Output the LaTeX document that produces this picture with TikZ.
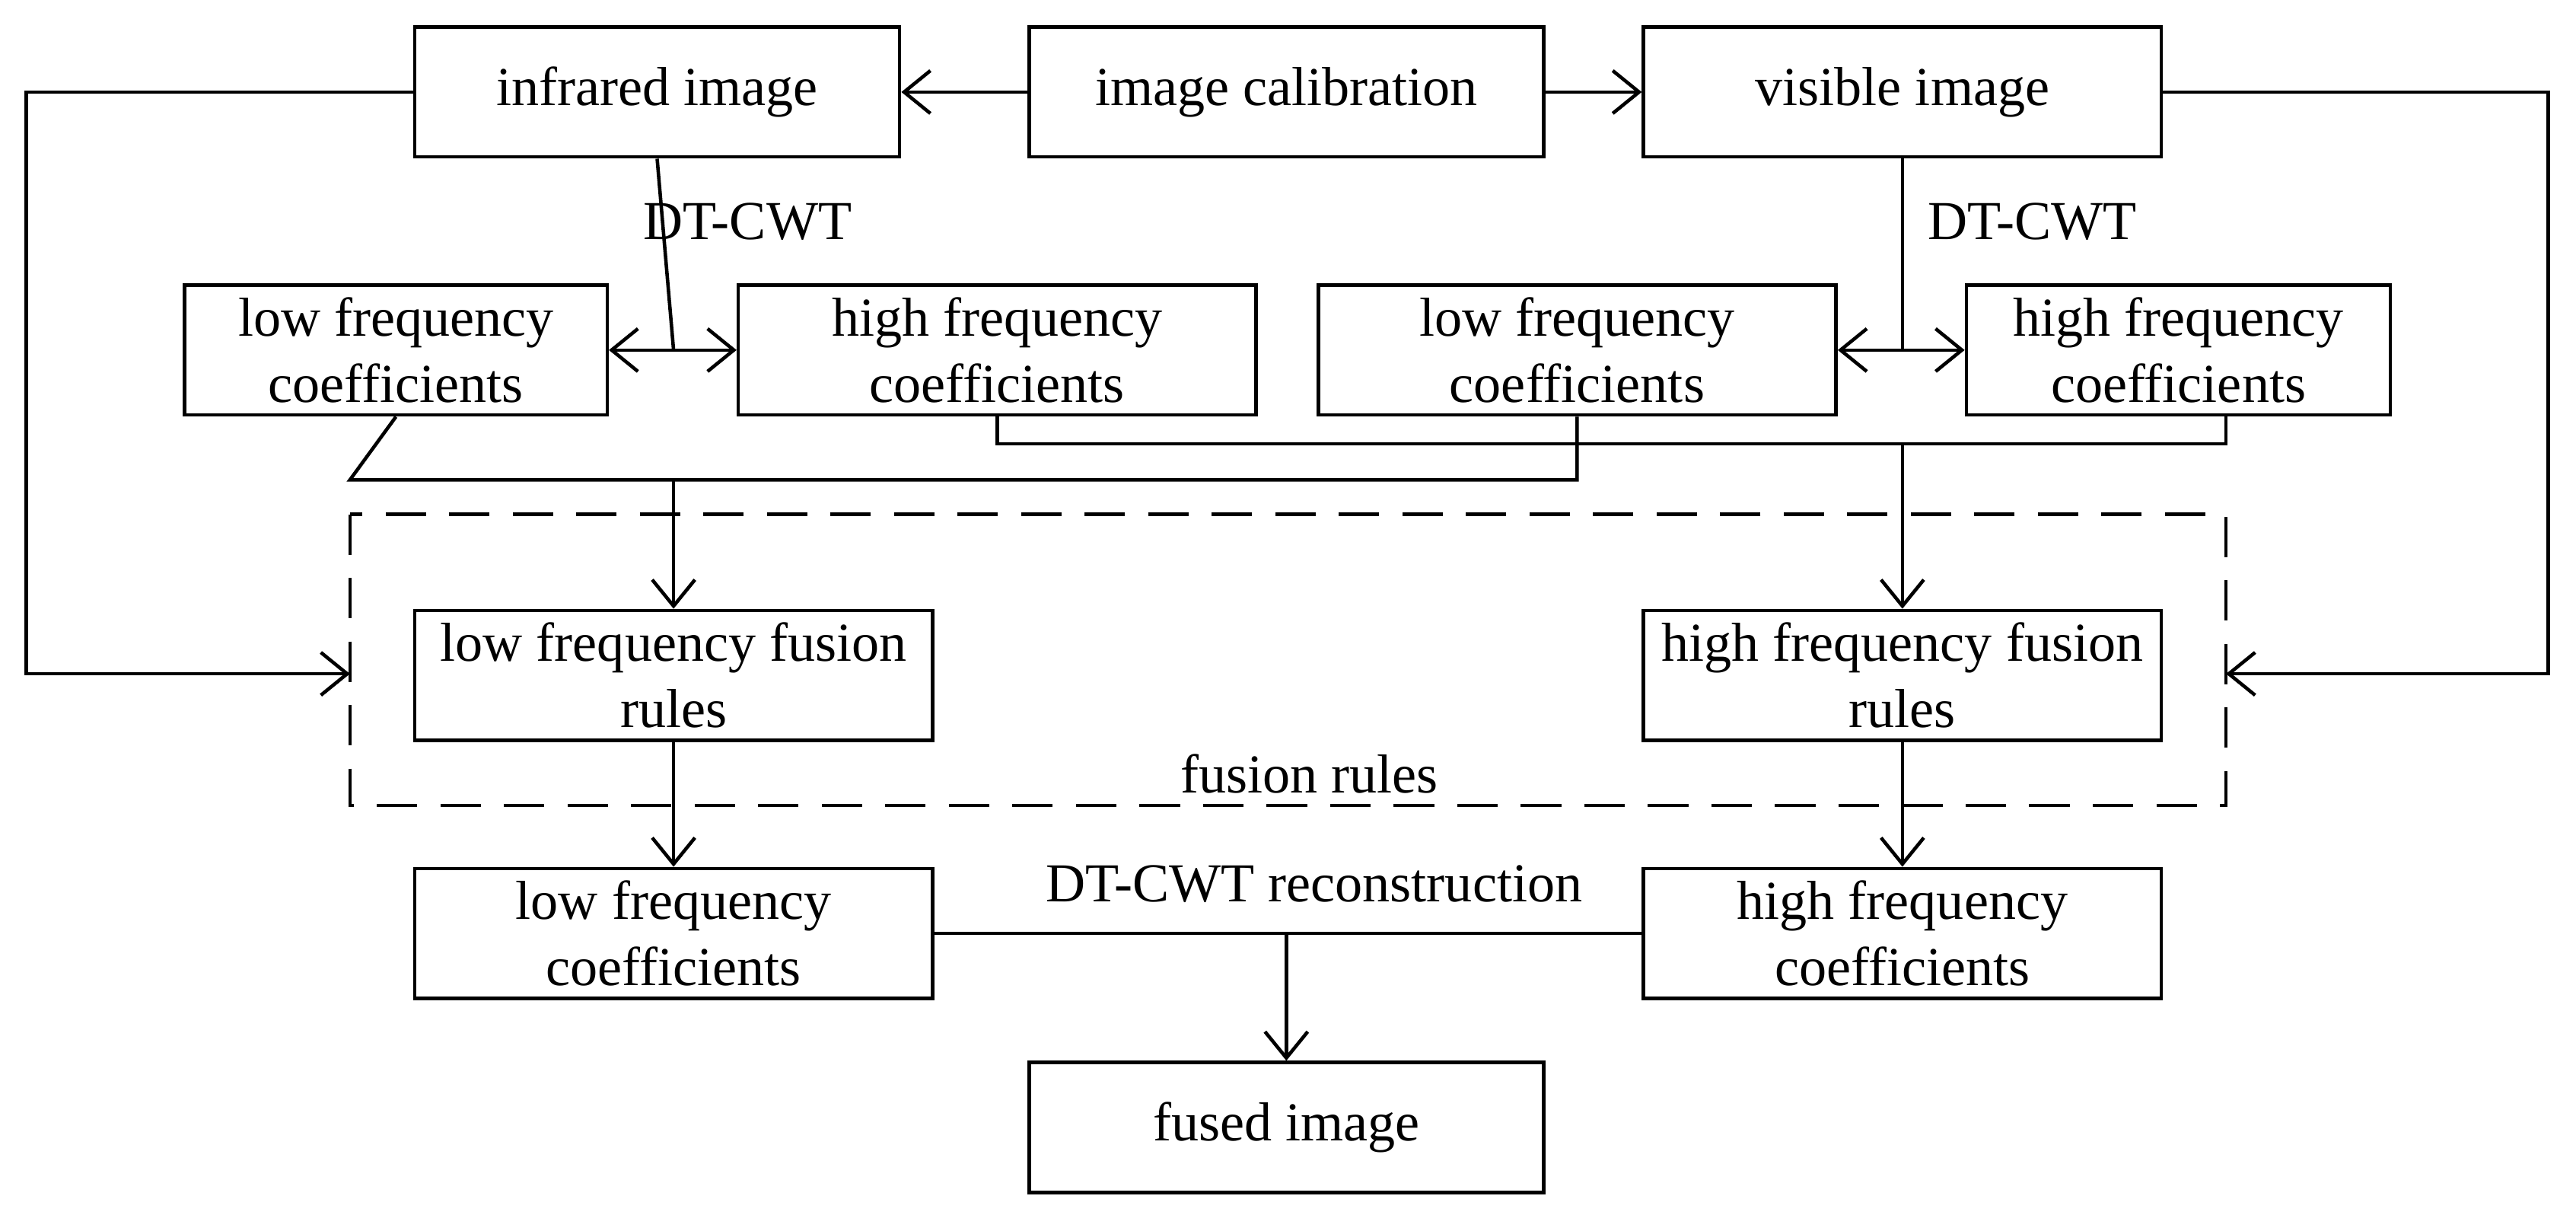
\documentclass[tikz,border=0pt]{standalone}
\usepackage{fontspec}
\setmainfont{Liberation Serif}
\usetikzlibrary{arrows.meta}
\begin{document}
\begin{tikzpicture}[x=0.01cm,y=-0.01cm,
  box/.style={draw,line width=0.6pt,minimum height=0.79cm,align=center,inner sep=0pt,
    font=\fontsize{9.5}{11.5}\selectfont},
  ln/.style={line width=0.6pt},
  ar/.style={ln,-{Straight Barb[length=1.6mm,width=2.6mm]}},
  lbl/.style={font=\fontsize{9.5}{11.5}\selectfont,inner sep=0pt}]
\useasboundingbox (0,0) rectangle (1568,739);
% boxes
\node[box,minimum width=2.95cm] (ir) at (400,56) {infrared image};
\node[box,minimum width=3.13cm] (cal) at (783,56) {image calibration};
\node[box,minimum width=3.15cm] (vis) at (1158,56) {visible image};
\node[box,minimum width=2.57cm] (l1) at (241,213) {low frequency\\coefficients};
\node[box,minimum width=3.15cm] (h1) at (607,213) {high frequency\\coefficients};
\node[box,minimum width=3.15cm] (l2) at (960,213) {low frequency\\coefficients};
\node[box,minimum width=2.58cm] (h2) at (1326,213) {high frequency\\coefficients};
\node[box,minimum width=3.15cm] (lr) at (410,411) {low frequency fusion\\rules};
\node[box,minimum width=3.15cm] (hr) at (1158,411) {high frequency fusion\\rules};
\node[box,minimum width=3.15cm] (l3) at (410,568) {low frequency\\coefficients};
\node[box,minimum width=3.15cm] (h3) at (1158,568) {high frequency\\coefficients};
\node[box,minimum width=3.13cm] (fu) at (783,686) {fused image};
% dashed fusion rules frame
\draw[ln,dash pattern=on 7pt off 4pt] (213,313) rectangle (1355,490);
\coordinate (fl) at (213,410);
\coordinate (fr) at (1355,410);
\node[lbl] (frl) at (797,471) {fusion rules};
\node[lbl] (d1) at (455,135) {DT-CWT};
\node[lbl] (d2) at (1237,135) {DT-CWT};
\node[lbl] (rec) at (800,538) {DT-CWT reconstruction};
% calibration
\draw[ar] (cal) -- (ir);
\draw[ar] (cal) -- (vis);
% side paths
\draw[ar] (ir.west) -- (16,56) -- (16,410) -- (fl);
\draw[ar] (vis.east) -- (1551,56) -- (1551,410) -- (fr);
% decomposition
\draw[ln] (ir.south) -- (410,213);
\draw[ar,{Straight Barb[length=1.6mm,width=2.6mm]}-{Straight Barb[length=1.6mm,width=2.6mm]}] (l1.east) -- (h1.west);
\draw[ln] (vis.south) -- (1158,213);
\draw[ar,{Straight Barb[length=1.6mm,width=2.6mm]}-{Straight Barb[length=1.6mm,width=2.6mm]}] (l2.east) -- (h2.west);
% grouping
\draw[ln] (l1.south) -- (213,292) -- (960,292) -- (l2.south);
\draw[ar] (410,292) -- (lr.north);
\draw[ln] (h1.south) -- (607,270) -- (1355,270) -- (1355,252);
\draw[ar] (1158,270) -- (hr.north);
% to coefficients
\draw[ar] (lr) -- (l3);
\draw[ar] (hr) -- (h3);
\draw[ln] (l3.east) -- (h3.west);
\draw[ar] (783,568) -- (fu.north);
\end{tikzpicture}
\end{document}
